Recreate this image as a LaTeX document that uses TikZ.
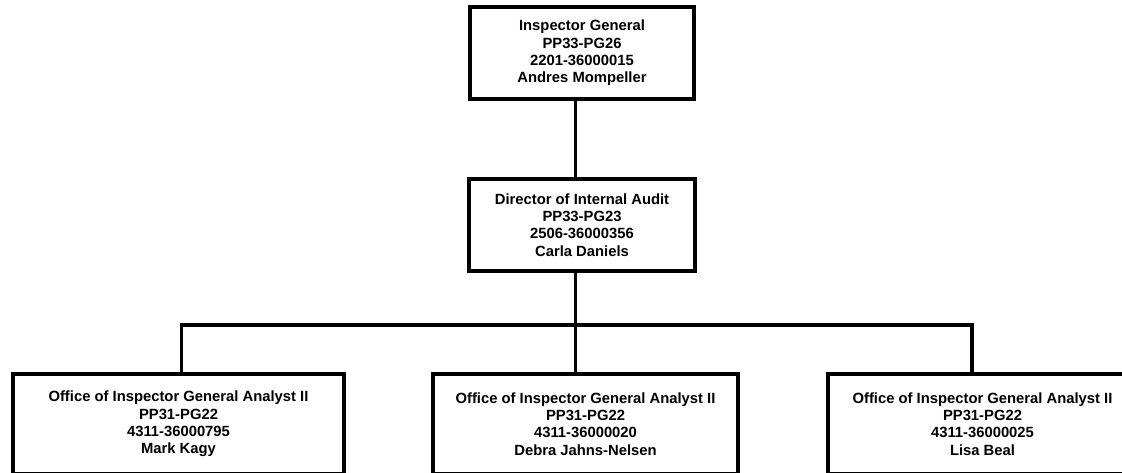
\documentclass[tikz,border=0pt]{standalone}
\usepackage{fontspec}
\setmainfont{Liberation Sans}
\begin{document}
\begin{tikzpicture}[x=0.75pt,y=-0.75pt,
  post/.style={draw=black, line width=2.5pt, fill=white, align=center,
    inner sep=0pt, outer sep=0pt,
    font=\bfseries\fontsize{11.1}{13}\selectfont},
  link/.style={line width=2.8pt, line join=miter}]
\useasboundingbox (0,0) rectangle (1122,473);

% positions
\node[post, minimum width=224*0.75pt, minimum height=92*0.75pt] (ig) at (582,53)
  {Inspector General\\PP33-PG26\\2201-36000015\\Andres Mompeller};
\node[post, minimum width=226*0.75pt, minimum height=92*0.75pt] (dia) at (582,225)
  {Director of Internal Audit\\PP33-PG23\\2506-36000356\\Carla Daniels};
\node[post, minimum width=331*0.75pt, minimum height=100*0.75pt] (a1) at (178.5,424)
  {Office of Inspector General Analyst II\\PP31-PG22\\4311-36000795\\Mark Kagy};
\node[post, minimum width=305*0.75pt, minimum height=100*0.75pt] (a2) at (585.5,424)
  {Office of Inspector General Analyst II\\PP31-PG22\\4311-36000020\\Debra Jahns-Nelsen};
\node[post, minimum width=309*0.75pt, minimum height=100*0.75pt] (a3) at (982.5,424)
  {Office of Inspector General Analyst II\\PP31-PG22\\4311-36000025\\Lisa Beal};

% reporting lines
\coordinate (trunk) at (575.5,325);
\coordinate (busL) at (181.5,325);
\coordinate (busR) at (972,325);
\draw[link] (ig.south -| trunk) -- (dia.north -| trunk);
\draw[link] (dia.south -| trunk) -- (a2.north -| trunk);
\draw[link] (a1.north -| busL) -- (busL) -- (busR) -- (a3.north -| busR);
\end{tikzpicture}
\end{document}
